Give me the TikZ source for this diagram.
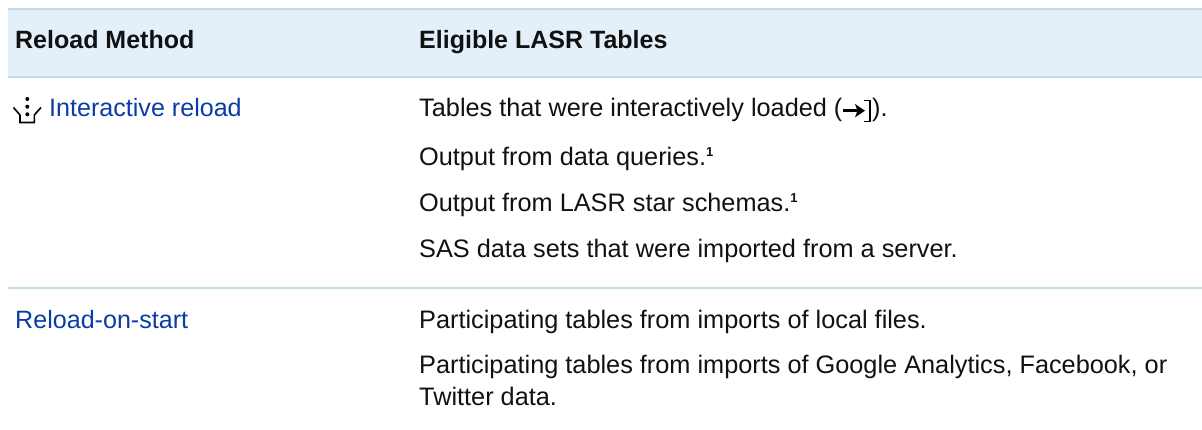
\documentclass[tikz,border=0pt]{standalone}
\usepackage{fontspec}
\setmainfont{Liberation Sans}
\definecolor{hdr}{HTML}{E3F0F9}
\definecolor{rulec}{HTML}{C0DCEC}
\definecolor{lnk}{HTML}{0A3CA8}
\definecolor{txt}{HTML}{111111}
\tikzset{cell/.style={anchor=base west,inner sep=0pt,font=\fontsize{25.3}{30}\selectfont,text=txt},
 hd/.style={cell,font=\fontsize{25}{30}\selectfont\bfseries},
 lk/.style={cell,font=\fontsize{25.1}{30}\selectfont,text=lnk},
 sep/.style={rulec,line width=1.3pt},
 icon/.style={black,line width=1.6pt,line join=miter}}
\newcommand{\supone}{\raisebox{9pt}{\fontsize{13}{13}\selectfont\bfseries 1}}
\begin{document}
\begin{tikzpicture}[x=1pt,y=-1pt]
\useasboundingbox (0,0) rectangle (1202,430);
\fill[hdr] (8,9) rectangle (1202,77);
\draw[sep] (8,9) -- (1202,9);
\draw[sep] (8,77) -- (1202,77);
\draw[sep] (8,288) -- (1202,288);
\node[hd] (h1) at (15,49) {Reload Method};
\node[hd] (h2) at (419,49) {Eligible LASR Tables};
\draw[icon] (13.5,107.5) -- (20,115) -- (20,122.5) -- (34.3,122.5) -- (34.3,115) -- (41,107.5);
\fill (27.3,99) circle (2) (27.3,106.7) circle (2) (27.3,114.3) circle (2);
\node[lk] (a) at (49,117) {Interactive reload};
\node[lk] (b) at (15,328) {Reload-on-start};
\node[cell] (t1) at (419,117) {Tables that were interactively loaded (};
\draw[black,line width=3pt] (843,110.7) -- (858,110.7);
\fill[black] (865,110.7) -- (855,104) -- (857.5,110.7) -- (855,117.4) -- cycle;
\draw[black,line width=1.3pt] (864,100.5) -- (870,100.5) -- (870,121.5) -- (864,121.5);
\node[cell] (t1b) at (872,117) {).};
\node[cell] (t2) at (419,166) {Output from data queries.\supone};
\node[cell] (t3) at (419,212) {Output from LASR star schemas.\supone};
\node[cell] (t4) at (419,257.3) {SAS data sets that were imported from a server.};
\node[cell] (t5) at (419,328) {Participating tables from imports of local files.};
\node[cell] (t6) at (419,373.3) {Participating tables from imports of Google Analytics, Facebook, or};
\node[cell] (t7) at (419,405.3) {Twitter data.};
\end{tikzpicture}
\end{document}
